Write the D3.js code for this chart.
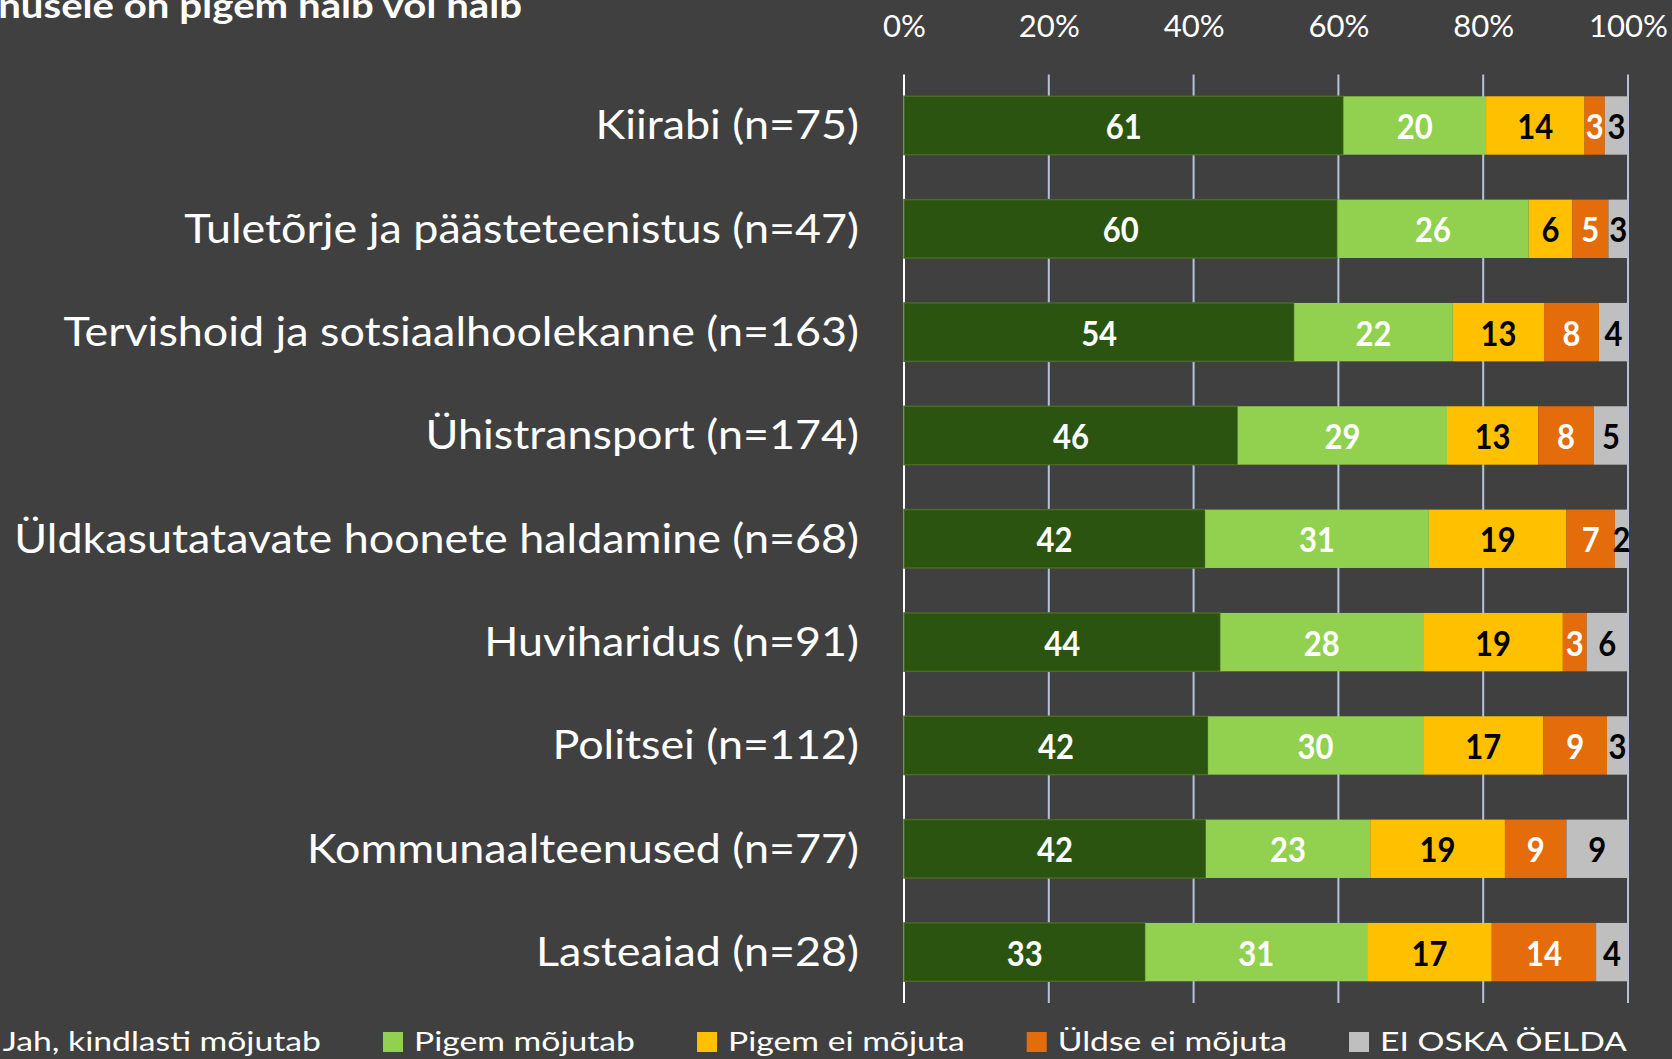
<!DOCTYPE html>
<html><head><meta charset="utf-8">
<script src="https://cdn.jsdelivr.net/npm/d3@7"></script>
<style>html,body{margin:0;padding:0;background:#404040;overflow:hidden;}</style>
</head><body>
<svg id="c" width="1672" height="1059"></svg>
<script>
const categories = ["Kiirabi (n=75)", "Tuletõrje ja päästeteenistus (n=47)", "Tervishoid ja sotsiaalhoolekanne (n=163)", "Ühistransport (n=174)", "Üldkasutatavate hoonete haldamine (n=68)", "Huviharidus (n=91)", "Politsei (n=112)", "Kommunaalteenused (n=77)", "Lasteaiad (n=28)"];
const seriesNames = ["Jah, kindlasti mõjutab", "Pigem mõjutab", "Pigem ei mõjuta", "Üldse ei mõjuta", "EI OSKA ÖELDA"];
const jahKindlasti = [60.7, 59.8, 53.9, 46.1, 41.6, 43.7, 42.0, 41.7, 33.3];
const pigemMojutab = [19.7, 26.4, 21.9, 28.9, 30.9, 28.0, 29.7, 22.7, 30.6];
const pigemEiMojuta = [13.6, 6.0, 12.6, 12.6, 19.0, 19.3, 16.6, 18.6, 17.2];
const uldseEiMojuta = [2.8, 5.0, 7.6, 7.7, 6.7, 3.3, 8.8, 8.5, 14.4];
const eiOska = [3.2, 2.7, 4.0, 4.7, 1.8, 5.7, 2.9, 8.5, 4.4];
const tickValues = [0, 0.2, 0.4, 0.6, 0.8, 1];
const titleText = "teenusele on pigem halb või halb";

const colors = ["#2A540F", "#92D050", "#FFC000", "#E46C0A", "#BFBFBF"];
const labelColors = ["#ffffff", "#ffffff", "#000000", "#ffffff", "#000000"];
const FONT = "Lato, 'Open Sans', sans-serif";

const seriesValues = [jahKindlasti, pigemMojutab, pigemEiMojuta, uldseEiMojuta, eiOska];
const rows = categories.map((c, i) => {
  const r = {cat: c};
  seriesNames.forEach((s, k) => r[s] = seriesValues[k][i]);
  return r;
});

const svg = d3.select("#c");
svg.append("rect").attr("width", 1672).attr("height", 1059).attr("fill", "#404040");

function measure(str, size, weight) {
  const t = svg.append("text").attr("font-family", FONT).attr("font-size", size).attr("font-weight", weight).text(str);
  const w = t.node().getComputedTextLength();
  t.remove();
  return w;
}
function place(sel, x, y, c) {
  sel.attr("transform", `translate(${x},${y}) scale(${c},1)`);
}

// typography calibration (horizontal compression to mimic the narrow original face)
const CAT_SIZE = 40.5, TICK_SIZE = 30, LEG_SIZE = 27.5, LAB_SIZE = 34, TITLE_SIZE = 34;
const cCat = 845 / measure("Üldkasutatavate hoonete haldamine (n=68)", CAT_SIZE, 400);
const cTick = 79 / measure("100%", TICK_SIZE, 400);
const cLeg = 934 / d3.sum(seriesNames.slice(1), s => measure(s, LEG_SIZE, 400));
const cLab = 36 / measure("44", LAB_SIZE, 700);
const cTitle = 524 / measure("nusele on pigem halb või halb", TITLE_SIZE, 700);

const x = d3.scaleLinear().domain([0, 1]).range([904, 1628]);
const y = d3.scaleBand().domain(categories).range([74.6, 1003]).paddingInner(0.435).paddingOuter(0.21);

// gridlines
svg.append("g").selectAll("line").data(tickValues).join("line")
  .attr("x1", d => x(d)).attr("x2", d => x(d))
  .attr("y1", y.range()[0]).attr("y2", y.range()[1])
  .attr("stroke", d => d === 0 ? "#ffffff" : "#B4C3DA").attr("stroke-width", 2);

// tick labels via axis
const axis = d3.axisTop(x).tickValues(tickValues).tickFormat(d3.format(".0%")).tickSize(0);
const ag = svg.append("g").attr("transform", "translate(0,37)").call(axis);
ag.select(".domain").remove();
ag.selectAll(".tick text").each(function(d) {
  const t = d3.select(this);
  t.attr("font-family", FONT).attr("font-size", TICK_SIZE).attr("fill", "#ffffff")
   .attr("text-anchor", "middle").attr("dy", null).attr("y", 0);
  place(t, 0, 0, cTick);
});

// stacked bars
const stack = d3.stack().keys(seriesNames).offset(d3.stackOffsetExpand);
const stacked = stack(rows);
const gBars = svg.append("g");
stacked.forEach((layer, k) => {
  const g = gBars.append("g");
  g.selectAll("rect").data(layer).join("rect")
    .attr("x", d => x(d[0])).attr("width", d => x(d[1]) - x(d[0]))
    .attr("y", d => y(d.data.cat)).attr("height", y.bandwidth())
    .attr("fill", colors[k])
    .attr("stroke", k === 0 ? "#4B6A26" : "none").attr("stroke-width", k === 0 ? 1.5 : 0);
});
stacked.forEach((layer, k) => {
  const g = gBars.append("g");
  g.selectAll("text").data(layer).join("text")
    .attr("font-family", FONT).attr("font-size", LAB_SIZE).attr("font-weight", 700)
    .attr("fill", labelColors[k]).attr("text-anchor", "middle")
    .text(d => Math.round(d.data[seriesNames[k]]))
    .each(function(d) {
      place(d3.select(this), (x(d[0]) + x(d[1])) / 2, y(d.data.cat) + y.bandwidth() / 2 + 13.5, cLab);
    });
});

// category labels
svg.append("g").selectAll("text").data(categories).join("text")
  .attr("font-family", FONT).attr("font-size", CAT_SIZE).attr("fill", "#ffffff")
  .attr("text-anchor", "end").text(d => d)
  .each(function(d) {
    place(d3.select(this), 859, y(d) + y.bandwidth() / 2 + 13.8, cCat);
  });

// title (cropped at the top-left in the original)
const tt = svg.append("text").attr("font-family", FONT).attr("font-size", TITLE_SIZE)
  .attr("font-weight", 700).attr("fill", "#ffffff").attr("text-anchor", "end").text(titleText);
place(tt, 522, 17.5, cTitle);

// legend (cropped at the left edge in the original)
const sw = 20, swGap = 11, itemGap = 62;
const widths = seriesNames.map(s => measure(s, LEG_SIZE, 400) * cLeg);
const itemW = widths.map(w => sw + swGap + w);
const secondStart = 383;
let lx = secondStart - itemGap - itemW[0];
const lg = svg.append("g");
seriesNames.forEach((s, k) => {
  lg.append("rect").attr("x", lx).attr("y", 1032).attr("width", sw).attr("height", sw).attr("fill", colors[k]);
  const t = lg.append("text").attr("font-family", FONT).attr("font-size", LEG_SIZE).attr("fill", "#ffffff").text(s);
  place(t, lx + sw + swGap, 1051, cLeg);
  lx += itemW[k] + itemGap;
});
</script>
</body></html>
